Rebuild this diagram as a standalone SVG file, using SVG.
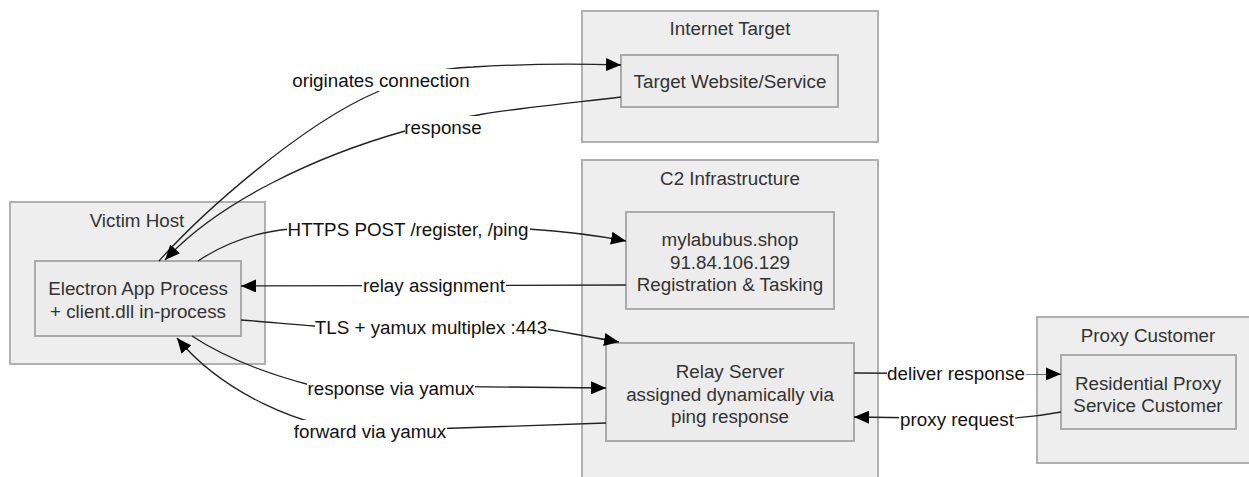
<svg xmlns="http://www.w3.org/2000/svg" width="1249" height="477" viewBox="0 0 1249 477">
<style>
.cluster{fill:#eeeeee;stroke:#b0b0b0;stroke-width:2}
.node{fill:#ececec;stroke:#aaaaaa;stroke-width:2}
.t{font-family:"Liberation Sans",Arial,sans-serif;font-size:18.8px;fill:#333;text-anchor:middle;dominant-baseline:central}
.e{fill:none;stroke:#222;stroke-width:1.3}
.lb{fill:#fff}
.lt{font-family:"Liberation Sans",Arial,sans-serif;font-size:18.8px;fill:#111;text-anchor:middle;dominant-baseline:central}
</style>
<defs>
<marker id="ah" markerUnits="userSpaceOnUse" markerWidth="15" markerHeight="13" refX="15" refY="6.5" orient="auto">
<path d="M0,0 L15,6.5 L0,13 z" fill="#000"/>
</marker>
</defs>
<g id="cluster-internet">
<rect class="cluster" x="582" y="11" width="296" height="131"/>
<text class="t" x="730" y="28">Internet Target</text>
</g>
<g id="cluster-c2">
<rect class="cluster" x="582" y="160" width="296" height="330"/>
<text class="t" x="730" y="178">C2 Infrastructure</text>
</g>
<g id="cluster-victim">
<rect class="cluster" x="10" y="202" width="255" height="162"/>
<text class="t" x="137" y="220">Victim Host</text>
</g>
<g id="cluster-proxy">
<rect class="cluster" x="1037" y="317" width="220" height="146"/>
<text class="t" x="1148" y="335">Proxy Customer</text>
</g>
<g id="target">
<rect class="node" x="621" y="55" width="217" height="52"/>
<text class="t" x="730" y="81">Target Website/Service</text>
</g>
<g id="c2server">
<rect class="node" x="626" y="212" width="208" height="97"/>
<text class="t" x="730" y="239">mylabubus.shop</text>
<text class="t" x="730" y="262">91.84.106.129</text>
<text class="t" x="730" y="284">Registration &amp; Tasking</text>
</g>
<g id="relay">
<rect class="node" x="606" y="343" width="248" height="98"/>
<text class="t" x="730" y="371">Relay Server</text>
<text class="t" x="730" y="394">assigned dynamically via</text>
<text class="t" x="730" y="416">ping response</text>
</g>
<g id="electron">
<rect class="node" x="35" y="261" width="206" height="75"/>
<text class="t" x="138" y="288">Electron App Process</text>
<text class="t" x="138" y="311">+ client.dll in-process</text>
</g>
<g id="customer">
<rect class="node" x="1061" y="355" width="175" height="74"/>
<text class="t" x="1148" y="383">Residential Proxy</text>
<text class="t" x="1148" y="405">Service Customer</text>
</g>
<g id="connectors">
<path class="e" d="M159,261 C200,215 300,125 377,92 C400,78 440,68 473,67 C540,63 590,64 621,65" marker-end="url(#ah)"/>
<path class="e" d="M621,97 C570,103 520,108 483,114 C460,118 430,126 405,131 C320,155 220,200 165,260" marker-end="url(#ah)"/>
<path class="e" d="M198,261 C225,243 255,232 290,229 L528,229 C560,231 600,236 626,241" marker-end="url(#ah)"/>
<path class="e" d="M626,285 L241,286" marker-end="url(#ah)"/>
<path class="e" d="M241,320 C270,322 295,325 315,326 L546,329 C570,333 595,338 619,342" marker-end="url(#ah)"/>
<path class="e" d="M192,336 C225,358 265,373 310,385 L606,388" marker-end="url(#ah)"/>
<path class="e" d="M606,423 L370,431 C300,430 220,390 177,338" marker-end="url(#ah)"/>
<path class="e" d="M854,373 L1061,374" marker-end="url(#ah)"/>
<path class="e" d="M1061,412 C1040,416 1020,418 1000,419 L854,417" marker-end="url(#ah)"/>
</g>
<g id="edge-labels">
<rect class="lb" x="292" y="69" width="180" height="22"/>
<text class="lt" x="381" y="80">originates connection</text>
<rect class="lb" x="405" y="116" width="78" height="22"/>
<text class="lt" x="443" y="127">response</text>
<rect class="lb" x="287" y="218" width="243" height="22"/>
<text class="lt" x="408" y="229">HTTPS POST /register, /ping</text>
<rect class="lb" x="362" y="274" width="144" height="22"/>
<text class="lt" x="434" y="285">relay assignment</text>
<rect class="lb" x="315" y="316" width="233" height="22"/>
<text class="lt" x="431" y="327">TLS + yamux multiplex :443</text>
<rect class="lb" x="307" y="377" width="168" height="22"/>
<text class="lt" x="391" y="388">response via yamux</text>
<rect class="lb" x="293" y="420" width="154" height="22"/>
<text class="lt" x="370" y="431">forward via yamux</text>
<rect class="lb" x="887" y="362" width="139" height="22"/>
<text class="lt" x="956" y="373">deliver response</text>
<rect class="lb" x="899" y="408" width="116" height="22"/>
<text class="lt" x="957" y="419">proxy request</text>
</g>
</svg>
